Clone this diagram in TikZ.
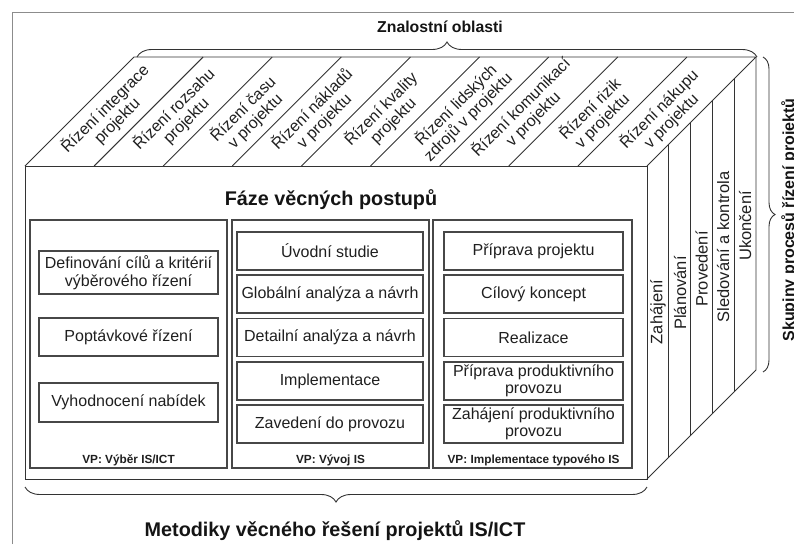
\documentclass[tikz,border=0pt]{standalone}
\usepackage{fontspec}
\setmainfont{Liberation Sans}
\usetikzlibrary{decorations.pathreplacing,calc}
\begin{document}
\begin{tikzpicture}[x=1pt,y=-1pt,
  edge/.style={draw=black!80,line width=0.9pt},
  panel/.style={draw=black!72,line width=1.1pt,inner sep=0pt},
  stepbox/.style={draw=black!72,line width=1.1pt,inner sep=0pt,align=center,
    minimum height=38pt,text=black!88,font=\fontsize{16}{17.5}\selectfont},
  arealabel/.style={rotate=45,align=center,inner sep=0pt,text=black!88,
    font=\fontsize{16}{17}\selectfont},
  grouplabel/.style={rotate=90,inner sep=0pt,text=black!88,
    font=\fontsize{16.5}{17}\selectfont},
  vplabel/.style={inner sep=0pt,text=black!88,font=\fontsize{11.8}{13}\selectfont\bfseries},
  heading/.style={inner sep=0pt,text=black!92,font=\bfseries},
  bracket/.style={draw=black!80,line width=0.9pt,decorate,
    decoration={brace,amplitude=#1}}
]
\useasboundingbox (0,0) rectangle (794,544);

% page frame
\draw[black!45,line width=0.8pt] (12,544) -- (12,12) -- (794,12);

% cube corners
\coordinate (fTL) at (25,166);
\coordinate (fTR) at (647,166);
\coordinate (fBR) at (647,479);
\coordinate (fBL) at (25,479);
\coordinate (bTL) at (134,57);
\coordinate (bTR) at (756,57);
\coordinate (bBR) at (756,370);

% front face
\draw[edge] (fTL) rectangle (fBR);
% top face
\draw[edge] (fTL) -- (bTL) -- (bTR) -- (fTR);
\foreach \k in {1,...,8}{
  \draw[edge] ($(fTL)+(69.11*\k,0)$) -- ($(bTL)+(69.11*\k,0)$);
}
% right face
\draw[edge] (bTR) -- (bBR) -- (fBR);
\foreach \k in {1,...,4}{
  \draw[edge] ($(fTR)+(21.8*\k,-21.8*\k)$) -- ($(fBR)+(21.8*\k,-21.8*\k)$);
}

% knowledge areas on the top face
\node[arealabel] (a1) at (111,115) {Řízení integrace\\projektu};
\node[arealabel] (a2) at (180,115) {Řízení rozsahu\\projektu};
\node[arealabel] (a3) at (249,115) {Řízení času\\v projektu};
\node[arealabel] (a4) at (318,115) {Řízení nákladů\\v projektu};
\node[arealabel] (a5) at (387,115) {Řízení kvality\\projektu};
\node[arealabel] (a6) at (462,111) {Řízení lidských\\zdrojů v projektu};
\node[arealabel] (a7) at (527,113) {Řízení komunikací\\v projektu};
\node[arealabel] (a8) at (596,115) {Řízení rizik\\v projektu};
\node[arealabel] (a9) at (665,115) {Řízení nákupu\\v projektu};

% process groups on the right face
\node[grouplabel] (g1) at (658,312) {Zahájení};
\node[grouplabel] (g2) at (680,293) {Plánování};
\node[grouplabel] (g3) at (701.5,269) {Provedení};
\node[grouplabel] (g4) at (723,247) {Sledování a kontrola};
\node[grouplabel] (g5) at (745,226) {Ukončení};

% headings
\node[heading,font=\fontsize{15.8}{17}\selectfont\bfseries] (zo) at (440,27) {Znalostní oblasti};
\node[heading,font=\fontsize{19.8}{22}\selectfont\bfseries] (fvp) at (331,200) {Fáze věcných postupů};
\node[heading,font=\fontsize{19.8}{22}\selectfont\bfseries] (mvr) at (335,531) {Metodiky věcného řešení projektů IS/ICT};
\node[heading,rotate=90,anchor=north,font=\fontsize{16}{17}\selectfont\bfseries] (spr) at (781,220) {Skupiny procesů řízení projektů};

% braces
\draw[bracket=15pt] (137,57) -- (757,57);
\draw[bracket=12pt] (763,57) -- (763,372);
\draw[bracket=15pt] (647,487) -- (25,487);

% panels
\node[panel,minimum width=197pt,minimum height=248pt] (p1) at (128.5,344) {};
\node[panel,minimum width=197pt,minimum height=248pt] (p2) at (330.5,344) {};
\node[panel,minimum width=199pt,minimum height=248pt] (p3) at (532.5,344) {};

\node[vplabel] (v1) at (128.5,460) {VP: Výběr IS/ICT};
\node[vplabel] (v2) at (330.5,460) {VP: Vývoj IS};
\node[vplabel] (v3) at (533.5,460) {VP: Implementace typového IS};

% selection steps
\node[stepbox,minimum width=179pt,minimum height=43pt] (s11) at (128.5,272.5) {Definování cílů a kritérií\\výběrového řízení};
\node[stepbox,minimum width=179pt] (s12) at (128.5,337) {Poptávkové řízení};
\node[stepbox,minimum width=179pt,minimum height=39pt] (s13) at (128.5,402.5) {Vyhodnocení nabídek};

% development steps
\node[stepbox,minimum width=186pt] (s21) at (330,251) {Úvodní studie};
\node[stepbox,minimum width=186pt] (s22) at (330,294) {Globální analýza a návrh};
\node[stepbox,minimum width=186pt] (s23) at (330,337.5) {Detailní analýza a návrh};
\node[stepbox,minimum width=186pt] (s24) at (330,381) {Implementace};
\node[stepbox,minimum width=186pt] (s25) at (330,424) {Zavedení do provozu};

% implementation steps
\node[stepbox,minimum width=179pt] (s31) at (533.5,251) {Příprava projektu};
\node[stepbox,minimum width=179pt] (s32) at (533.5,294) {Cílový koncept};
\node[stepbox,minimum width=179pt] (s33) at (533.5,337.5) {Realizace};
\node[stepbox,minimum width=179pt] (s34) at (533.5,381) {Příprava produktivního\\provozu};
\node[stepbox,minimum width=179pt] (s35) at (533.5,424) {Zahájení produktivního\\provozu};
\end{tikzpicture}
\end{document}
